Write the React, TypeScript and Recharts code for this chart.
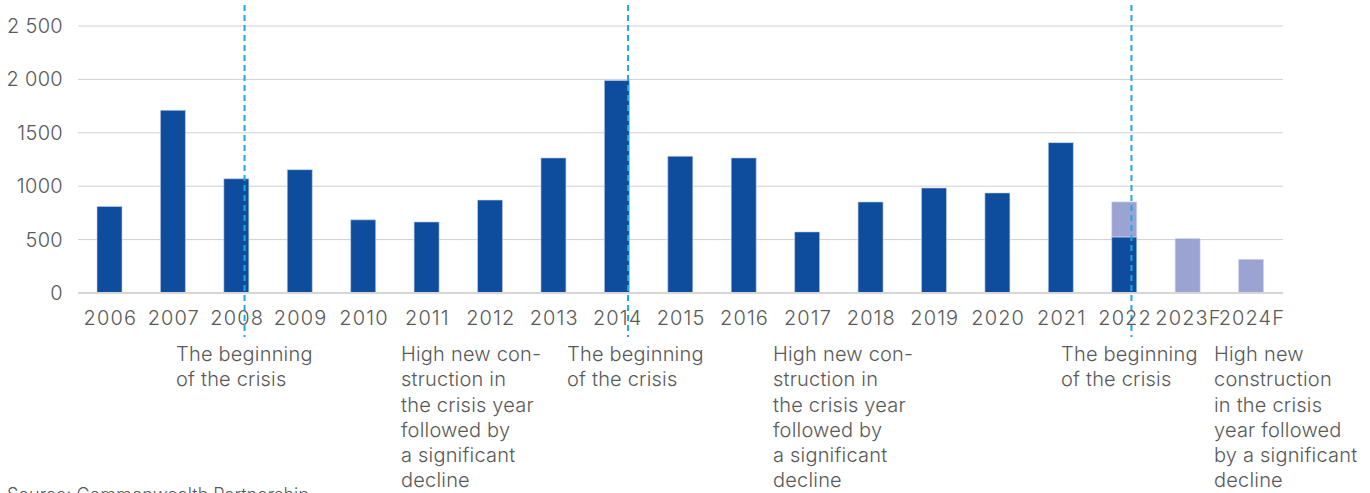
import React from "react";
import { Bar, BarChart, CartesianGrid, ReferenceLine, XAxis, YAxis } from "recharts";

const years = [
  "2006", "2007", "2008", "2009", "2010", "2011", "2012", "2013", "2014", "2015",
  "2016", "2017", "2018", "2019", "2020", "2021", "2022", "2023F", "2024F",
];
const actual = [810, 1710, 1070, 1155, 685, 665, 870, 1265, 1990, 1280, 1265, 572, 852, 983, 937, 1408, 525, 0, 0];
const forecast = [0, 0, 0, 0, 0, 0, 0, 0, 0, 0, 0, 0, 0, 0, 0, 0, 328, 510, 315];
const yTicks = [0, 500, 1000, 1500, 2000, 2500];
const yTickLabels = ["0", "500", "1000", "1500", "2 000", "2 500"];
const crisisYears = ["2008", "2014", "2022"];

const notes = [
  ["The beginning", "of the crisis"],
  ["High new con-", "struction in", "the crisis year", "followed by", "a significant", "decline"],
  ["The beginning", "of the crisis"],
  ["High new con-", "struction in", "the crisis year", "followed by", "a significant", "decline"],
  ["The beginning", "of the crisis"],
  ["High new", "construction", "in the crisis", "year followed", "by a significant", "decline"],
];
const noteLeft = [176, 401, 567, 773, 1061, 1214];
const lineShift = [8, 11, 7];

const FONT = "Inter, Lato, sans-serif";
const TXT = "#595959";
const FS = 20;

const data = years.map((y, i) => ({ year: y, actual: actual[i], forecast: forecast[i] }));

function XTick(props: any) {
  const { x, y, payload } = props;
  return (
    <text
      x={x + 0.6}
      y={y + 30}
      textAnchor="middle"
      fontSize={FS}
      fill={TXT}
      fontFamily={FONT}
      fontWeight={300}
      letterSpacing={1.1}
    >
      {payload.value}
    </text>
  );
}

function YTick(props: any) {
  const { x, y, payload } = props;
  return (
    <text x={x} y={y + 7} textAnchor="end" fontSize={FS} fill={TXT} fontFamily={FONT} fontWeight={300} letterSpacing={0.3}>
      {yTickLabels[yTicks.indexOf(payload.value)]}
    </text>
  );
}

function crisisShape(shift: number) {
  return (p: any) => (
    <line
      x1={p.x1 + shift}
      x2={p.x2 + shift}
      y1={5}
      y2={337}
      stroke="#1aa9e6"
      strokeWidth={2}
      strokeDasharray="6 4"
    />
  );
}

export default function App() {
  return (
    <div style={{ position: "absolute", left: 0, top: 0, width: 1370, height: 493, overflow: "hidden", background: "#fff" }}>
      <BarChart width={1370} height={493} data={data} margin={{ top: 26, right: 87, left: 0, bottom: 0 }} barSize={25}>
        <CartesianGrid vertical={false} stroke="#d0d0d0" strokeWidth={1} />
        <XAxis
          dataKey="year"
          height={200}
          tickLine={false}
          tickSize={0}
          axisLine={{ stroke: "#d6d6d6", strokeWidth: 2 }}
          tick={<XTick />}
          interval={0}
        />
        <YAxis
          width={78}
          domain={[0, 2500]}
          ticks={yTicks}
          axisLine={false}
          tickLine={false}
          tickSize={0}
          tickMargin={15}
          tick={<YTick />}
        />
        <Bar dataKey="actual" stackId="a" fill="#0e4c9e" stroke="#c8d2ea" strokeWidth={0.6} isAnimationActive={false} />
        <Bar dataKey="forecast" stackId="a" fill="#9aa3d1" stroke="#d6daee" strokeWidth={0.6} isAnimationActive={false} />
        {crisisYears.map((y, i) => (
          <ReferenceLine key={y} x={y} ifOverflow="visible" shape={crisisShape(lineShift[i])} />
        ))}
      </BarChart>
      {notes.map((lines, i) => (
        <div
          key={i}
          style={{
            position: "absolute",
            left: noteLeft[i],
            top: 342,
            fontFamily: FONT,
            fontWeight: 300,
            fontSize: FS,
            letterSpacing: 0.2,
            lineHeight: "25.3px",
            color: TXT,
            whiteSpace: "nowrap",
          }}
        >
          {lines.map((t, j) => (
            <div key={j}>{t}</div>
          ))}
        </div>
      ))}
      <div style={{ position: "absolute", left: 7, top: 484, fontFamily: FONT, fontWeight: 300, fontSize: 18, color: TXT, whiteSpace: "nowrap" }}>
        Source: Commonwealth Partnership
      </div>
    </div>
  );
}
